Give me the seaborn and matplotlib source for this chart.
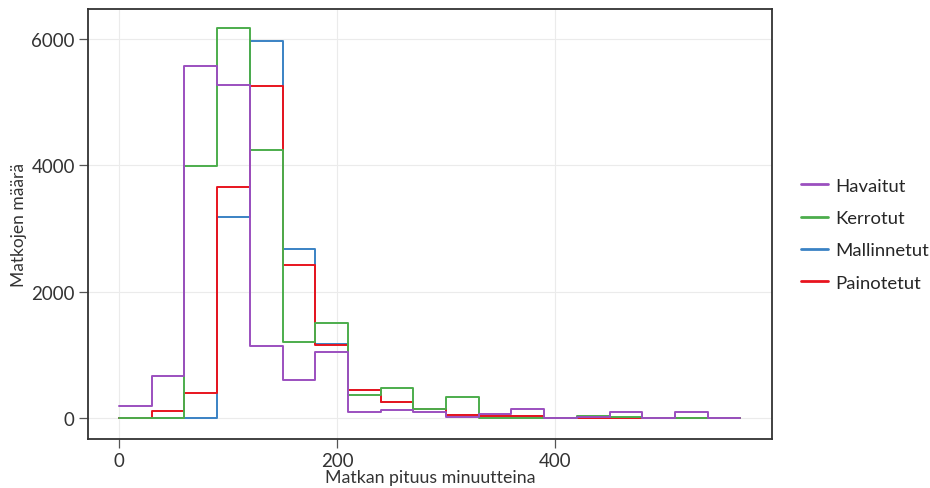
import numpy as np
import pandas as pd
import matplotlib
matplotlib.use("Agg")
import matplotlib.pyplot as plt
from matplotlib.lines import Line2D
import seaborn as sns

# Bin edges (minutes) and counts per series
bin_edges = list(range(0, 571, 30))
havaitut    = [185, 665, 5575, 5260, 1145, 605, 1045, 100, 130, 100, 15, 70, 145, 5, 25, 90, 5, 90, 10]
kerrotut    = [10, 10, 3990, 6165, 4245, 1210, 1505, 360, 475, 140, 340, 10, 5, 5, 35, 25, 10, 10, 10]
mallinnetut = [0, 0, 0, 3185, 5960, 2675, 1170, 440, 250, 150, 50, 30, 30, 0, 5, 5, 5, 5, 5]
painotetut  = [10, 106, 391, 3650, 5245, 2428, 1160, 450, 250, 150, 50, 30, 30, 0, 5, 5, 5, 5, 5]

series_names = ["Havaitut", "Kerrotut", "Mallinnetut", "Painotetut"]
series_values = [havaitut, kerrotut, mallinnetut, painotetut]
colors = {"Havaitut": "#9b4fbf", "Kerrotut": "#4cad4c", "Mallinnetut": "#3a82c4", "Painotetut": "#e8141e"}

centers = [(a + b) / 2 for a, b in zip(bin_edges[:-1], bin_edges[1:])]
rows = []
for name, vals in zip(series_names, series_values):
    for c, v in zip(centers, vals):
        rows.append({"kesto": c, "n": v, "sarja": name})
df = pd.DataFrame(rows)

sns.set_theme(style="whitegrid")
plt.rcParams["font.family"] = ["Lato", "DejaVu Sans"]

fig = plt.figure(figsize=(9.3, 4.89), dpi=100)
ax = fig.add_axes([0.0946, 0.1002, 0.7355, 0.8794])

draw_order = ["Mallinnetut", "Painotetut", "Kerrotut", "Havaitut"]
for name in draw_order:
    sub = df[df["sarja"] == name]
    sns.histplot(data=sub, x="kesto", weights="n", bins=bin_edges, element="step",
                 fill=False, color=colors[name], linewidth=1.4, ax=ax)

ax.set_xlim(-28.5, 599)
ax.set_ylim(-330, 6470)
ax.set_xticks([0, 200, 400])
ax.set_yticks([0, 2000, 4000, 6000])
ax.grid(True, color="#ebebeb", linewidth=0.8)
for s in ax.spines.values():
    s.set_color("#333333")
    s.set_linewidth(1.3)
ax.tick_params(axis="both", which="both", length=6.5, width=0.9, color="#555555",
               labelsize=13.5, labelcolor="#333333", pad=3, left=True, bottom=True)
ax.set_xlabel("Matkan pituus minuutteina", fontsize=12.8, color="#333333", labelpad=0)
ax.set_ylabel("Matkojen määrä", fontsize=12.5, color="#333333", labelpad=3)

handles = [Line2D([0], [0], color=colors[n], linewidth=2) for n in series_names]
fig.legend(handles, series_names, loc="center left", bbox_to_anchor=(0.843, 0.519),
           frameon=False, fontsize=13.3, handlelength=1.5, labelspacing=0.89,
           handletextpad=0.35)

fig.savefig("out.png", dpi=100)
